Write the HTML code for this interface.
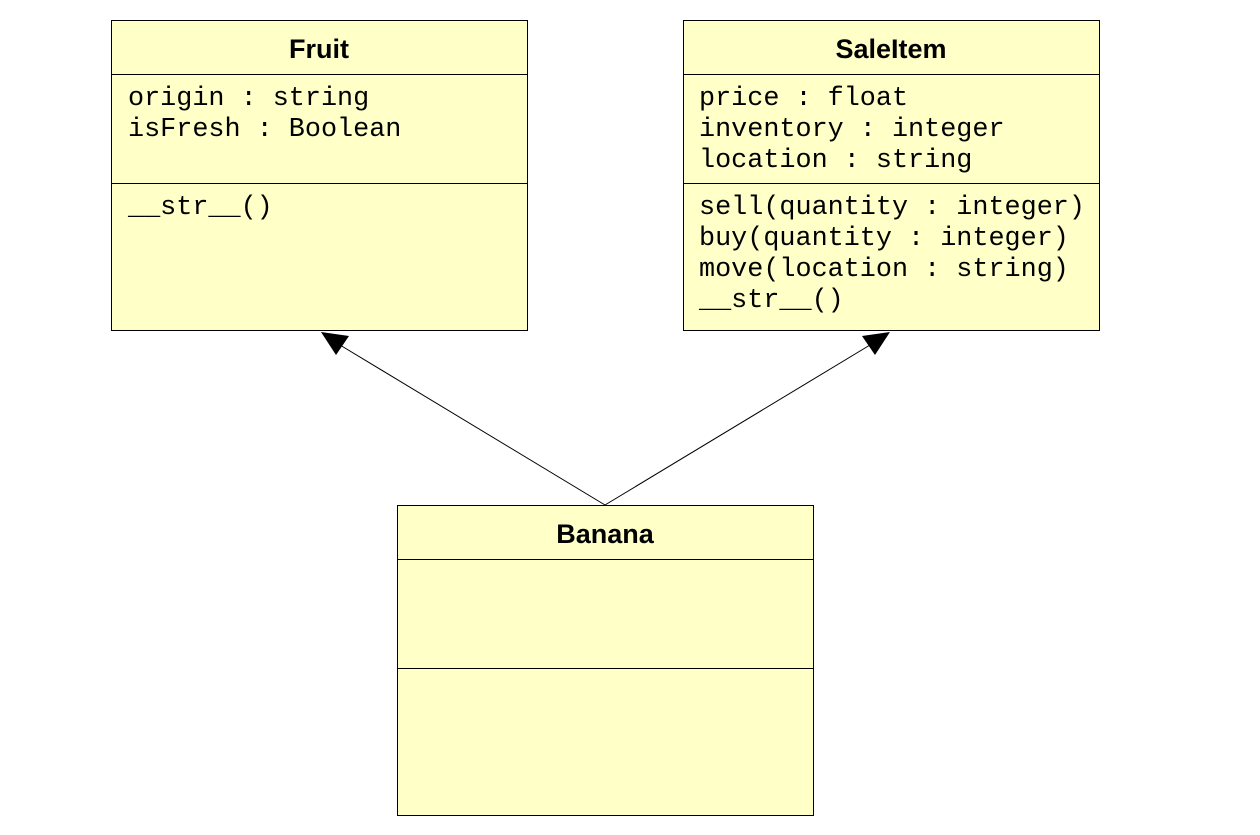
<!DOCTYPE html>
<html><head><meta charset="utf-8"><style>body{margin:0;background:#fff}svg{display:block}</style></head>
<body>
<svg width="1260" height="835" xmlns="http://www.w3.org/2000/svg">
<defs><style>
.b{fill:#ffffc8;stroke:#000;stroke-width:1}
.t{font-family:"Liberation Sans",sans-serif;font-weight:bold;font-size:27px;text-anchor:middle}
.m{font-family:"Liberation Mono",monospace;font-size:26.8px}
</style></defs>
<g>
<rect class="b" x="111.5" y="20.5" width="416" height="310"/>
<line x1="111" y1="74.5" x2="527" y2="74.5" stroke="#000"/>
<line x1="111" y1="183.5" x2="527" y2="183.5" stroke="#000"/>
<text class="t" x="319" y="58">Fruit</text>
<text class="m" x="128" y="105">origin : string</text>
<text class="m" x="128" y="136">isFresh : Boolean</text>
<text class="m" x="128" y="214">__str__()</text>
</g>
<g>
<rect class="b" x="683.5" y="20.5" width="416" height="310"/>
<line x1="683" y1="74.5" x2="1099" y2="74.5" stroke="#000"/>
<line x1="683" y1="183.5" x2="1099" y2="183.5" stroke="#000"/>
<text class="t" x="891" y="58">SaleItem</text>
<text class="m" x="699" y="105">price : float</text>
<text class="m" x="699" y="136">inventory : integer</text>
<text class="m" x="699" y="167">location : string</text>
<text class="m" x="699" y="214">sell(quantity : integer)</text>
<text class="m" x="699" y="245">buy(quantity : integer)</text>
<text class="m" x="699" y="276">move(location : string)</text>
<text class="m" x="699" y="307">__str__()</text>
</g>
<g>
<rect class="b" x="397.5" y="505.5" width="416" height="310"/>
<line x1="397" y1="559.5" x2="813" y2="559.5" stroke="#000"/>
<line x1="397" y1="668.5" x2="813" y2="668.5" stroke="#000"/>
<text class="t" x="605" y="543">Banana</text>
</g>
<line x1="605" y1="505" x2="340" y2="345" stroke="#000"/>
<line x1="605" y1="505" x2="870" y2="345" stroke="#000"/>
<polygon points="321,332 349,336 336,355" fill="#000"/>
<polygon points="890,332 862,336 875,355" fill="#000"/>
</svg>
</body></html>
